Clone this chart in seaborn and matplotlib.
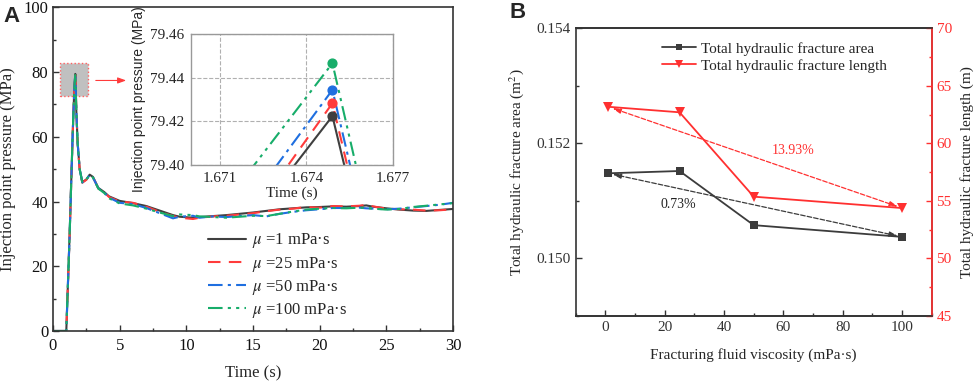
import matplotlib
matplotlib.use('Agg')
import matplotlib.pyplot as plt
import seaborn as sns
import pandas as pd
from matplotlib.patches import Rectangle
from matplotlib.ticker import MultipleLocator
from matplotlib.lines import Line2D

# ---- panel A data: injection point pressure vs time ----
t_rise = [0.0, 0.95, 1.0, 1.25, 1.47, 1.6]
p_rise = [0.0, 0.0, 0.3, 30.0, 60.0, 75.0]

# points around the peak (the part shown in the inset)
t_peak_1 = [1.6733, 1.6749, 1.6754]
p_peak_1 = [79.395, 79.4224, 79.395]
t_peak_25 = [1.6731, 1.6749, 1.6755]
p_peak_25 = [79.395, 79.4283, 79.395]
t_peak_50 = [1.6727, 1.6749, 1.6756]
p_peak_50 = [79.395, 79.4344, 79.395]
t_peak_100 = [1.6719, 1.6749, 1.6758]
p_peak_100 = [79.395, 79.4466, 79.395]

t_fall = [1.75, 1.85, 2.0]
p_fall = [68.0, 58.0, 50.0]

t_late = [2.2, 2.5, 2.75, 3.0, 3.4, 3.85, 4.2, 5, 6, 7, 8, 9, 9.5, 10.5, 11, 12, 13,
          14, 15, 16, 17, 18, 19, 20, 21, 22, 23, 23.5, 24, 25, 26, 27, 28, 29, 30]
p_late_1 = [46.0, 46.8, 48.3, 47.6, 44.2, 42.9, 41.6, 40.2, 39.5, 38.6, 37.2, 35.8, 35.3,
            35.0, 35.2, 35.5, 35.8, 36.2, 36.6, 37.1, 37.6, 37.9, 38.2, 38.3, 38.5, 38.4,
            38.6, 38.8, 38.4, 37.9, 37.5, 37.2, 37.1, 37.4, 37.7]
p_late_25 = [45.8, 46.7, 48.2, 47.5, 44.0, 42.8, 41.4, 40.0, 39.6, 38.4, 36.8, 35.5, 35.0,
             34.6, 35.0, 35.4, 35.6, 36.0, 36.4, 37.0, 37.5, 37.8, 38.3, 38.1, 38.6, 38.5,
             38.7, 39.0, 38.5, 37.8, 37.6, 37.5, 37.2, 37.3, 37.6]
p_late_50 = [45.9, 46.8, 48.2, 47.4, 44.1, 42.7, 41.2, 39.6, 39.2, 38.0, 36.4, 34.8, 35.3,
             35.6, 35.0, 35.4, 35.2, 35.5, 35.8, 35.4, 36.2, 36.8, 37.3, 37.6, 38.0, 38.0,
             38.1, 37.9, 37.8, 37.6, 37.8, 38.2, 38.6, 39.0, 39.6]
p_late_100 = [45.9, 46.8, 48.2, 47.4, 44.0, 42.6, 41.0, 39.4, 38.8, 37.8, 36.6, 35.5, 36.0,
              35.8, 35.4, 35.2, 35.0, 35.3, 35.6, 35.5, 36.2, 36.9, 37.5, 37.8, 38.0, 37.9,
              38.1, 38.0, 37.8, 37.5, 37.7, 38.3, 38.7, 39.1, 39.5]

visc_labels = [r'$\mu$ =1 mPa·s', r'$\mu$ =25 mPa·s', r'$\mu$ =50 mPa·s', r'$\mu$ =100 mPa·s']
colors_a = ['#3f3f3f', '#ff3b3b', '#1f6fe0', '#17ad6a']
dashes_a = ['', (6, 4), (7, 2.5, 1.5, 2.5), (7, 2.5, 1.5, 2.5, 1.5, 2.5)]

# ---- panel B data ----
viscosity = [1, 25, 50, 100]
frac_area = [0.15148, 0.15152, 0.150579, 0.150375]
frac_length = [63.18, 62.70, 55.37, 54.38]

sns.set_style('ticks')
plt.rcParams['font.family'] = ['Liberation Serif', 'DejaVu Serif']
plt.rcParams['mathtext.fontset'] = 'stix'
plt.rcParams['xtick.direction'] = 'in'
plt.rcParams['ytick.direction'] = 'in'

peaks = [(t_peak_1, p_peak_1), (t_peak_25, p_peak_25), (t_peak_50, p_peak_50), (t_peak_100, p_peak_100)]
lates = [p_late_1, p_late_25, p_late_50, p_late_100]
frames = []
for lab, (tp, pp), pl in zip(visc_labels, peaks, lates):
    frames.append(pd.DataFrame({
        'Time': t_rise + tp + t_fall + t_late,
        'Pressure': p_rise + pp + p_fall + pl,
        'case': lab,
    }))
df_a = pd.concat(frames, ignore_index=True)

fig = plt.figure(figsize=(9.76, 3.85), dpi=100)

# ---------- panel A ----------
ax = fig.add_axes([0.0543, 0.1403, 0.4098, 0.8407])
sns.lineplot(data=df_a, x='Time', y='Pressure', hue='case', style='case',
             palette=colors_a, dashes=dashes_a, hue_order=visc_labels,
             style_order=visc_labels, linewidth=1.5, sort=False, estimator=None,
             ax=ax, legend=False)
ax.set_xlim(0, 30)
ax.set_ylim(0, 100)
ax.xaxis.set_major_locator(MultipleLocator(5))
ax.xaxis.set_minor_locator(MultipleLocator(2.5))
ax.yaxis.set_major_locator(MultipleLocator(20))
ax.yaxis.set_minor_locator(MultipleLocator(10))
ax.tick_params(labelsize=12, length=4, width=1, colors='#333333', labelcolor='#111111')
ax.tick_params(axis='x', pad=5)
ax.tick_params(which='minor', length=2.5, width=1, colors='#333333')
ax.set_xlabel('Time (s)', fontsize=12, labelpad=8)
ax.set_ylabel('Injection point pressure (MPa)', fontsize=12, labelpad=5)
for s in ax.spines.values():
    s.set_linewidth(1.2)
    s.set_color('#333333')

ax.add_patch(Rectangle((0.55, 72.5), 2.1, 10.2, facecolor='#c0c0c0', edgecolor='#ff6060',
                       linestyle=':', linewidth=1.0, zorder=1))
ax.annotate('', xy=(5.7, 77.4), xytext=(3.0, 77.4),
            arrowprops=dict(arrowstyle='-|>,head_length=0.5,head_width=0.18',
                            color='#ff3b3b', lw=0.8))

handles = [Line2D([], [], color=colors_a[0], lw=1.5)]
for c, d in zip(colors_a[1:], dashes_a[1:]):
    handles.append(Line2D([], [], color=c, lw=1.5, dashes=d))
ax.legend(handles, visc_labels, loc='lower left', bbox_to_anchor=(0.35, -0.012),
          frameon=False, fontsize=12, handlelength=2.3, handletextpad=0.35,
          labelspacing=0.25)

# inset
axi = fig.add_axes([0.1957, 0.5714, 0.2070, 0.3403])
sns.lineplot(data=df_a, x='Time', y='Pressure', hue='case', style='case',
             palette=colors_a, dashes=dashes_a, hue_order=visc_labels,
             style_order=visc_labels, linewidth=1.5, sort=False, estimator=None,
             ax=axi, legend=False)
for (tp, pp), c in zip(peaks, colors_a):
    axi.scatter([tp[1]], [pp[1]], s=40, color=c, zorder=5)
axi.set_xlim(1.670, 1.677)
axi.set_ylim(79.40, 79.46)
axi.set_xticks([1.671, 1.674, 1.677])
axi.set_yticks([79.40, 79.42, 79.44, 79.46])
axi.set_xticklabels(['1.671', '1.674', '1.677'])
axi.set_yticklabels(['79.40', '79.42', '79.44', '79.46'])
axi.grid(True, linestyle='--', color='#b0b0b0', linewidth=0.8)
axi.tick_params(labelsize=11, length=0, pad=5)
axi.set_xlabel('Time (s)', fontsize=11, labelpad=1)
axi.set_ylabel('Injection point pressure (MPa)', fontsize=10,
               family=['Liberation Sans', 'DejaVu Sans'], labelpad=3)
for s in axi.spines.values():
    s.set_linewidth(1.0)
    s.set_color('#999999')

# ---------- panel B ----------
red_b = '#ff3030'
gray_b = '#3c3c3c'
df_b = pd.DataFrame({'Viscosity': viscosity, 'Area': frac_area, 'Length': frac_length})

axb = fig.add_axes([0.5899, 0.1792, 0.3647, 0.7473])
sns.lineplot(data=df_b, x='Viscosity', y='Area', color=gray_b, marker='s',
             markersize=6, markeredgewidth=0, linewidth=1.3, ax=axb)
axb.set_xlim(-10, 110)
axb.set_ylim(0.149, 0.154)
axb.xaxis.set_major_locator(MultipleLocator(20))
axb.xaxis.set_minor_locator(MultipleLocator(10))
axb.set_yticks([0.150, 0.152, 0.154])
axb.yaxis.set_minor_locator(MultipleLocator(0.001))
axb.tick_params(labelsize=11, length=4, width=1, colors='#333333', labelcolor='#333333')
axb.tick_params(which='minor', length=2.5, width=1, colors='#333333')
axb.set_xlabel('Fracturing fluid viscosity (mPa·s)', fontsize=11, labelpad=10)
axb.set_ylabel('Total hydraulic fracture area (m$^2$)', fontsize=11, labelpad=8)
axb.annotate('', xy=(1, frac_area[0]), xytext=(100, frac_area[-1]),
             arrowprops=dict(arrowstyle='<|-|>,head_length=0.5,head_width=0.15',
                             color=gray_b, lw=0.9, linestyle='--', shrinkA=3, shrinkB=3))
axb.text(24.6, 0.150944, '0.73%', fontsize=10, color='#222222', ha='center', va='center')

axr = axb.twinx()
sns.lineplot(data=df_b, x='Viscosity', y='Length', color=red_b, marker='v',
             markersize=7, markeredgewidth=0, linewidth=1.3, ax=axr)
axr.set_ylim(45, 70)
axr.yaxis.set_major_locator(MultipleLocator(5))
axr.yaxis.set_minor_locator(MultipleLocator(2.5))
axr.tick_params(axis='y', labelsize=11, length=4, width=1, colors=red_b, labelcolor=red_b)
axr.tick_params(axis='y', which='minor', length=2.5, width=1, colors=red_b)
axr.set_ylabel('Total hydraulic fracture length (m)', fontsize=11, labelpad=6)
axr.annotate('', xy=(1, frac_length[0]), xytext=(100, frac_length[-1]),
             arrowprops=dict(arrowstyle='<|-|>,head_length=0.5,head_width=0.15',
                             color=red_b, lw=0.9, linestyle='--', shrinkA=3, shrinkB=3))
axr.text(63.2, 59.4, '13.93%', fontsize=10, color=red_b, ha='center', va='center')

for s in axb.spines.values():
    s.set_linewidth(1.2)
    s.set_color('#333333')
for name, s in axr.spines.items():
    s.set_linewidth(1.2)
    s.set_color(red_b if name == 'right' else '#333333')
axr.spines['left'].set_visible(False)

leg_handles = [Line2D([], [], color=gray_b, marker='s', markersize=5, lw=1.3, markeredgewidth=0),
               Line2D([], [], color=red_b, marker='v', markersize=6, lw=1.3, markeredgewidth=0)]
axr.legend(leg_handles, ['Total hydraulic fracture area', 'Total hydraulic fracture length'],
           loc='upper left', bbox_to_anchor=(0.205, 1.0), frameon=False, fontsize=11,
           handlelength=2.2, handletextpad=0.35, labelspacing=0.2)

fig.text(0.004, 0.985, 'A', fontsize=16, fontweight='bold', va='top',
         family=['Liberation Sans', 'DejaVu Sans'])
fig.text(0.522, 0.995, 'B', fontsize=16, fontweight='bold', va='top',
         family=['Liberation Sans', 'DejaVu Sans'])

fig.savefig('out.png', dpi=100)
